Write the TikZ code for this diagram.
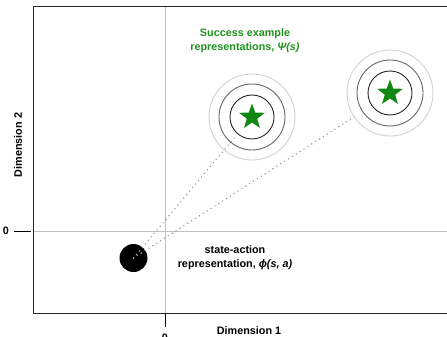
\documentclass[tikz,border=0pt]{standalone}
\usepackage{fontspec}
\setmainfont{Liberation Sans}
\usetikzlibrary{shapes.geometric}
\definecolor{stargreen}{RGB}{17,136,17}
\definecolor{textgreen}{RGB}{30,145,30}
\begin{document}
\begin{tikzpicture}[x=1pt,y=-1pt,
  frame/.style={draw=black!85,line width=0.9pt},
  axisline/.style={draw=black!25,line width=0.9pt},
  tickline/.style={draw=black,line width=0.8pt},
  ringa/.style={circle,draw=black!85,line width=0.9pt,minimum size=44pt,inner sep=0pt},
  ringb/.style={circle,draw=black!60,line width=0.9pt,minimum size=66pt,inner sep=0pt},
  ringc/.style={circle,draw=black!18,line width=0.9pt,minimum size=86pt,inner sep=0pt},
  starnode/.style={star,star points=5,star point ratio=2.45,fill=stargreen,minimum size=27pt,inner sep=0pt},
  dotline/.style={draw=black!40,line width=1.6pt,line cap=round,dash pattern=on 0pt off 4.6pt},
  lab/.style={font=\bfseries\fontsize{10.8}{14}\selectfont,align=center,inner sep=0pt}
]
\useasboundingbox (0,0) rectangle (447,337);
% axes
\draw[axisline] (165,6) -- (165,313);
\draw[axisline] (33,231) -- (447,231);
% frame
\draw[frame] (447,6) -- (33,6) -- (33,313) -- (447,313);
% ticks
\draw[tickline] (14,231) -- (31,231);
\draw[tickline] (165,314) -- (165,327);
\node[lab] (zeroy) at (6,231) {0};
\node[lab] (zerox) at (165,337.5) {0};
\node[lab] (dimx) at (249,331) {Dimension 1};
\node[lab,rotate=90] (dimy) at (18,145) {Dimension 2};
% state-action point
\node[circle,fill=black,minimum size=28pt,inner sep=0pt] (sa) at (133.5,258) {};
\node[lab] (salabel) at (235,258) {state-action\\representation, \textit{ϕ(s, a)}};
% success examples
\coordinate (e1) at (235,137);
\coordinate (e2) at (357,115);
\draw[dotline] (sa.center) -- (e1);
\draw[dotline] (sa.center) -- (e2);
\node[ringc] (c1) at (252,117) {};
\node[ringb] (b1) at (252,117) {};
\node[ringa] (a1) at (252,117) {};
\node[starnode] (s1) at (252,117) {};
\node[ringc] (c2) at (390,93) {};
\node[ringb] (b2) at (390,93) {};
\node[ringa] (a2) at (390,93) {};
\node[starnode] (s2) at (390,93) {};
\node[lab,text=textgreen] (suc) at (245,41) {Success example\\representations, \textit{Ψ(s)}};
\end{tikzpicture}
\end{document}
